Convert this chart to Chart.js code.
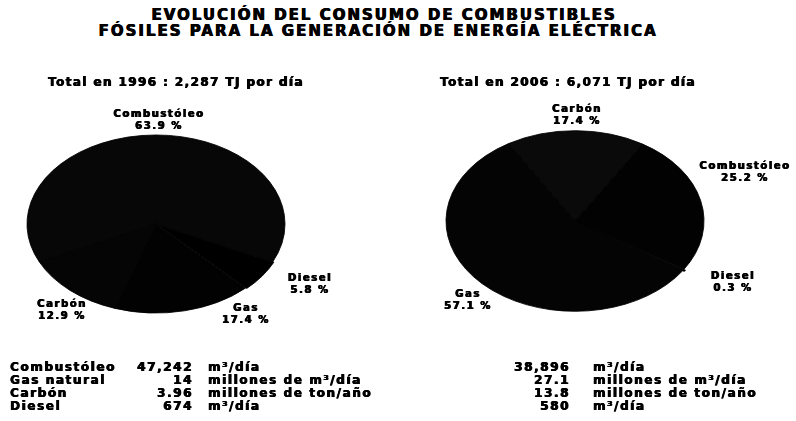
<!DOCTYPE html>
<html>
<head>
<meta charset="utf-8">
<script src="https://cdn.jsdelivr.net/npm/chart.js@4"></script>
<style>
  body { margin: 0; background: #fff; }
  #page { position: relative; width: 796px; height: 421px; overflow: hidden; font-family: "DejaVu Sans", sans-serif; font-weight: bold; color: #000; }
  canvas { position: absolute; }
  .t { position: absolute; white-space: nowrap; text-shadow: 0.6px 0 0 #000, -0.3px 0 0 #000; }
  .c { transform: translateX(-50%); text-align: center; }
  .r { transform: translateX(-100%); text-align: right; }
  .title { font-size: 15px; letter-spacing: 2px; line-height: 16px; }
  .sub { font-size: 12px; letter-spacing: 1.4px; }
  .lbl { font-size: 10px; line-height: 12px; letter-spacing: 1.6px; }
  .tab { font-size: 12px; letter-spacing: 1.6px; line-height: 13px; }
</style>
</head>
<body>
<div id="page">
  <div class="t c title" style="left:384px;top:7px">EVOLUCIÓN DEL CONSUMO DE COMBUSTIBLES</div>
  <div class="t c title" style="left:378px;top:23px">FÓSILES PARA LA GENERACIÓN DE ENERGÍA ELÉCTRICA</div>
  <canvas id="pie1996" width="300" height="300" style="left:6px;top:74px"></canvas>
  <canvas id="pie2006" width="300" height="300" style="left:425px;top:71px"></canvas>
  <div id="texts"></div>
</div>
<script>
// data
const years = ['1996', '2006']
const totals = ['2,287', '6,071']
const fuels1996 = ['Combustóleo', 'Diesel', 'Gas', 'Carbón']
const share1996 = [63.9, 5.8, 17.4, 12.9]
const fuels2006 = ['Carbón', 'Combustóleo', 'Diesel', 'Gas']
const share2006 = [17.4, 25.2, 0.3, 57.1]

const tableNames = ['Combustóleo', 'Gas natural', 'Carbón', 'Diesel']
const table1996 = ['47,242', '14', '3.96', '674']
const units1996 = ['m³/día', 'millones de m³/día', 'millones de ton/año', 'm³/día']
const table2006 = ['38,896', '27.1', '13.8', '580']
const units2006 = ['m³/día', 'millones de m³/día', 'millones de ton/año', 'm³/día']

// where the slice labels sit (center x, top y)
const labelPos1996 = [[159, 108], [310, 272], [246, 302], [62, 298]]
const labelPos2006 = [[577, 103], [745, 160], [733, 270], [468, 288]]

const page = document.getElementById('texts')
const addText = (txt, cls, x, y) => {
  const d = document.createElement('div')
  d.className = 't ' + cls
  d.style.left = x + 'px'
  d.style.top = y + 'px'
  d.innerHTML = txt
  page.appendChild(d)
}

addText(`Total en ${years[0]} : ${totals[0]} TJ por día`, 'sub', 48, 75)
addText(`Total en ${years[1]} : ${totals[1]} TJ por día`, 'sub', 440, 75)

fuels1996.forEach((f, i) => {
  addText(f + '<br>' + share1996[i].toFixed(1) + ' %', 'c lbl', labelPos1996[i][0], labelPos1996[i][1])
})
fuels2006.forEach((f, i) => {
  addText(f + '<br>' + share2006[i].toFixed(1) + ' %', 'c lbl', labelPos2006[i][0], labelPos2006[i][1])
})

const rowY = [361, 374, 387, 400]
tableNames.forEach((n, i) => {
  addText(n, 'tab', 10, rowY[i])
  addText(table1996[i], 'tab r', 193, rowY[i])
  addText(units1996[i], 'tab', 208, rowY[i])
  addText(table2006[i], 'tab r', 570, rowY[i])
  addText(units2006[i], 'tab', 593, rowY[i])
})

// squash the round pie into the flat ellipse of the scan
const squash = {
  id: 'squash',
  beforeDatasetsDraw(chart, args, opts) {
    const a = chart.chartArea
    const cx = (a.left + a.right) / 2, cy = (a.top + a.bottom) / 2
    chart.ctx.save()
    chart.ctx.translate(cx, cy)
    chart.ctx.scale(1, opts.ratio)
    chart.ctx.translate(-cx, -cy)
  },
  afterDatasetsDraw(chart) {
    chart.ctx.restore()
  }
}

const makePie = (id, labels, values, colors, offsets, rotation, ratio) => {
  new Chart(document.getElementById(id), {
    type: 'pie',
    data: {
      labels: labels,
      datasets: [{
        data: values,
        backgroundColor: colors,
        borderColor: '#000',
        borderWidth: 1,
        offset: offsets
      }]
    },
    options: {
      responsive: false,
      animation: false,
      radius: 129,
      rotation: rotation,
      layout: { padding: 0 },
      plugins: {
        legend: { display: false },
        tooltip: { enabled: false },
        squash: { ratio: ratio }
      }
    },
    plugins: [squash]
  })
}

makePie('pie1996', fuels1996, share1996, ['#070707', '#000', '#020202', '#050505'], [0, 3, 0, 0], -115, 0.69)
makePie('pie2006', fuels2006, share2006, ['#0a0a0a', '#020202', '#000', '#040404'], [0, 0, 4, 0], -31, 0.70)
</script>
</body>
</html>
